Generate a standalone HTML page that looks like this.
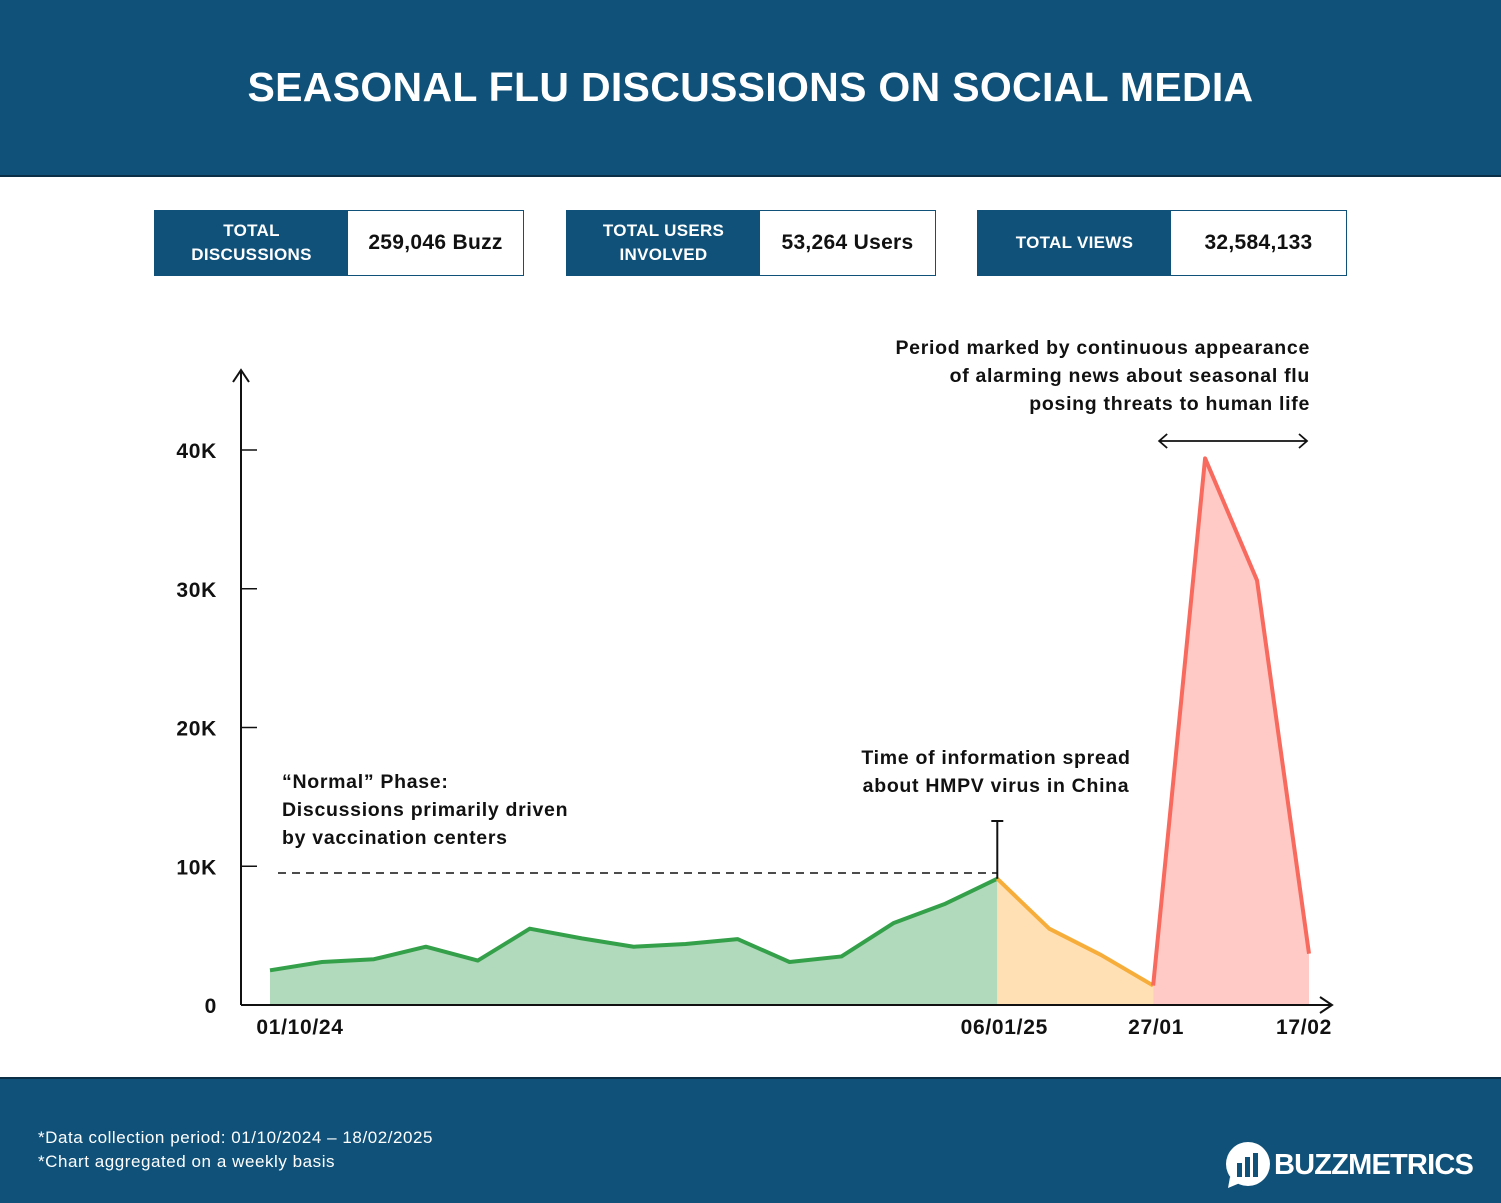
<!DOCTYPE html>
<html><head><meta charset="utf-8">
<style>
body{margin:0;width:1501px;height:1201px;background:#fff;font-family:"Liberation Sans",sans-serif;position:relative;overflow:hidden}
.hdr{position:absolute;left:0;top:0;width:1501px;height:175px;background:#0f5179;border-bottom:2px solid #0a2f47}
.hdr h1{margin:0;position:absolute;top:64px;width:100%;text-align:center;color:#fff;font-size:41px;font-weight:bold;letter-spacing:0.3px}
.ftr{position:absolute;left:0;top:1077px;width:1501px;height:124px;background:#0f5179;border-top:2px solid #0a2f47}
.note{position:absolute;left:38px;color:#fff;font-size:17px;letter-spacing:0.55px}
.kpi{position:absolute;top:210px;height:66px;width:370px;border:1.5px solid #0f5179;box-sizing:border-box;display:flex}
.kpi .l{width:193px;background:#0f5179;color:#fff;font-weight:bold;font-size:17px;display:flex;align-items:center;justify-content:center;text-align:center;line-height:24px;letter-spacing:0.3px}
.kpi .v{flex:1;display:flex;align-items:center;justify-content:center;font-weight:bold;font-size:21px;color:#111;letter-spacing:0.3px}
svg text{letter-spacing:0.7px}
</style></head><body>
<div class="hdr"><h1>SEASONAL FLU DISCUSSIONS ON SOCIAL MEDIA</h1></div>
<div class="kpi" style="left:154px"><div class="l">TOTAL<br>DISCUSSIONS</div><div class="v">259,046 Buzz</div></div>
<div class="kpi" style="left:566px"><div class="l">TOTAL USERS<br>INVOLVED</div><div class="v">53,264 Users</div></div>
<div class="kpi" style="left:977px"><div class="l">TOTAL VIEWS</div><div class="v">32,584,133</div></div>
<svg id="chart" width="1501" height="1201" style="position:absolute;left:0;top:0"></svg>
<div class="ftr">
<div class="note" style="top:49px">*Data collection period: 01/10/2024 – 18/02/2025</div>
<div class="note" style="top:73px">*Chart aggregated on a weekly basis</div>
<div style="position:absolute;left:1224px;top:62px;display:flex;align-items:center">
<svg width="48" height="48"><circle cx="24" cy="23" r="22" fill="#fff"/><path d="M6 36 L4 47 L16 42Z" fill="#fff"/><rect x="13" y="22" width="5" height="14" fill="#0f5179"/><rect x="21" y="16" width="5" height="20" fill="#0f5179"/><rect x="29" y="12" width="5" height="24" fill="#0f5179"/></svg>
<span style="color:#fff;font-weight:bold;font-size:29px;margin-left:2px;letter-spacing:-0.8px">BUZZMETRICS</span></div>
</div>
<script>
const values=[2.5,3.1,3.3,4.2,3.2,5.5,4.8,4.2,4.4,4.75,3.1,3.5,5.9,7.3,9.1,5.5,3.6,1.4,39.4,30.6,3.7];
const yTicks=[0,10,20,30,40];
const yTickLabels=["0","10K","20K","30K","40K"];
const xLabelIdx=[0,14,17,20];
const xLabels=["01/10/24","06/01/25","27/01","17/02"];
const segments=[[0,14,"#34a04a","#b1d9bb"],[14,17,"#f7ad3a","#ffe0b5"],[17,20,"#f76a5d","#ffc9c6"]];
const X=i=>270+i*51.95, Y=v=>1005-v*13.875;
const svg=document.getElementById('chart'),NS="http://www.w3.org/2000/svg";
function mk(t,a,p){const e=document.createElementNS(NS,t);for(const k in a)e.setAttribute(k,a[k]);(p||svg).appendChild(e);return e;}
segments.forEach((s,si)=>{
 let pts=[];for(let i=s[0];i<=s[1];i++)pts.push(X(i)+","+Y(values[i]));
 const a=mk('polygon',{points:X(s[0])+",1005 "+pts.join(" ")+" "+X(s[1])+",1005",fill:s[3]});
 
 
 const l=mk('polyline',{points:pts.join(" "),fill:"none",stroke:s[2],"stroke-width":4,"stroke-linejoin":"round"});
 
 
});
let ax=mk('path',{d:"M241 1005V372M233 382L241 370L249 382",stroke:"#111","stroke-width":2,fill:"none"});


ax=mk('path',{d:"M241 1005H1331M1320 997L1332 1005L1320 1013",stroke:"#111","stroke-width":2,fill:"none"});


yTicks.forEach((v,i)=>{
 if(v>0){const t=mk('line',{x1:241,x2:257,y1:Y(v),y2:Y(v),stroke:"#111","stroke-width":1.5});
 
 }
 const tx=mk('text',{x:217,y:Y(v)+8,"text-anchor":"end","font-size":21,"font-weight":"bold",fill:"#111"});tx.textContent=yTickLabels[i];
 
 
});
const xOff=[30,7,3,-5];
xLabelIdx.forEach((idx,i)=>{
 const tx=mk('text',{x:X(idx)+xOff[i],y:1034,"text-anchor":"middle","font-size":21,"font-weight":"bold",fill:"#111"});tx.textContent=xLabels[i];
 
 
});
let d=mk('line',{x1:278,x2:X(14),y1:873,y2:873,stroke:"#111","stroke-width":1.5,"stroke-dasharray":"8,6"});


d=mk('path',{d:`M${X(14)} ${Y(values[14])}V821M${X(14)-6} 821H${X(14)+6}`,stroke:"#111","stroke-width":2,fill:"none"});


d=mk('path',{d:`M${X(17)+6} 441H${X(20)-2}M${X(17)+14} 434L${X(17)+6} 441L${X(17)+14} 448M${X(20)-10} 434L${X(20)-2} 441L${X(20)-10} 448`,stroke:"#111","stroke-width":1.8,fill:"none"});


function txt(lines,x,y,anchor,name){lines.forEach((s,i)=>{const t=mk('text',{x:x,y:y+i*28,"text-anchor":anchor,"font-size":19.5,"font-weight":"bold",fill:"#111"});t.textContent=s;
 
 });}
txt(["“Normal” Phase:","Discussions primarily driven","by vaccination centers"],282,788,"start","normal-phase-annotation");
txt(["Time of information spread","about HMPV virus in China"],996,764,"middle","hmpv-annotation");
txt(["Period marked by continuous appearance","of alarming news about seasonal flu","posing threats to human life"],1310,354,"end","alarm-period-annotation");
</script>
</body></html>
